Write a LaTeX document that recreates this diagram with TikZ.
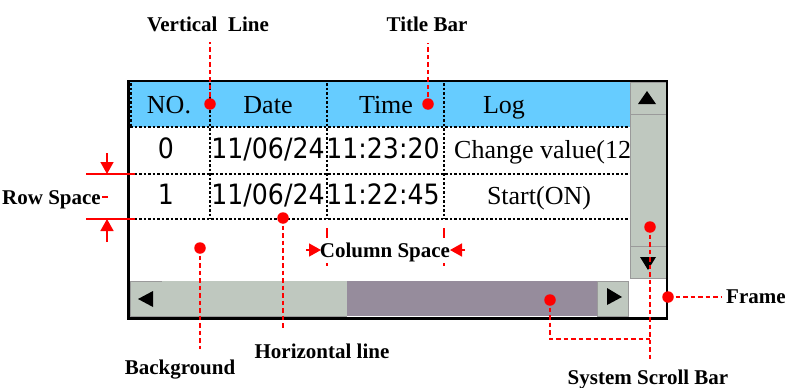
\documentclass[tikz,border=0pt]{standalone}
\usepackage{fontspec}
\setmainfont{Liberation Serif}
\newfontfamily\numfont[FakeStretch=0.9]{DejaVu Sans}
\usetikzlibrary{arrows.meta}
\definecolor{titleblue}{HTML}{66CCFF}
\definecolor{sbgray}{HTML}{BFC8BF}
\definecolor{sbdark}{HTML}{968C9C}
\definecolor{sbedge}{HTML}{9A9A9A}
\tikzset{
  lab/.style={font=\fontsize{21}{24}\selectfont\bfseries, inner sep=0pt, anchor=base},
  hdr/.style={font=\fontsize{26}{30}\selectfont, inner sep=0pt, anchor=base},
  num/.style={font=\numfont\fontsize{28}{32}\selectfont, inner sep=0pt, anchor=base},
  leader/.style={red, line width=2.6pt, dash pattern=on 4.5pt off 3pt},
  rdot/.style={circle, fill=red, inner sep=0pt, minimum size=11.5pt},
  gridline/.style={black, line width=1.2pt, dash pattern=on 2.5pt off 2pt},
  btn/.style={fill=sbgray, draw=sbedge, line width=0.8pt},
  tri/.style={fill=black},
  redline/.style={red, line width=1.5pt},
  redarrow/.style={red, line width=1.6pt, -{Triangle[length=12pt,width=13pt]}},
}
\begin{document}
\begin{tikzpicture}[x=1pt,y=-1pt]
\clip (0,0) rectangle (787,388);
\fill[white] (0,0) rectangle (787,388);
% title bar
\fill[titleblue] (130,82) rectangle (630,127);
% header texts
\node[hdr] (hno) at (169,113) {NO.};
\node[hdr] (hdate) at (268,113) {Date};
\node[hdr] (htime) at (386,113) {Time};
\node[hdr] (hlog) at (504,113) {Log};
% row 0
\node[num] (r0a) at (166,158) {0};
\node[num] (r0b) at (268,158) {11/06/24};
\node[num] (r0c) at (383,158) {11:23:20};
\node[hdr, anchor=base west] (r0d) at (454,158) {Change value(12};
% row 1
\node[num] (r1a) at (166,204) {1};
\node[num] (r1b) at (268,204) {11/06/24};
\node[num] (r1c) at (383,204) {11:22:45};
\node[hdr] (r1d) at (539,204) {Start(ON)};
% grid lines
\draw[gridline] (130,127) -- (630,127);
\draw[gridline] (130,174) -- (630,174);
\draw[gridline] (130,219) -- (630,219);
\draw[gridline] (131,83) -- (131,127);
\draw[gridline] (210,83) -- (210,219);
\draw[gridline] (327,83) -- (327,219);
\draw[gridline] (444,83) -- (444,219);
% vertical scroll bar
\fill[white] (630,82) rectangle (667,317);
\draw[btn] (630,82) rectangle (666,114);
\draw[btn] (630,114) rectangle (666,246);
\draw[btn] (630,246) rectangle (666,278);
\fill[tri] (638,104) -- (656,104) -- (647,91) -- cycle;
\fill[tri] (640,257) -- (656,257) -- (648,270) -- cycle;
% horizontal scroll bar
\draw[btn] (130,281) rectangle (162,316);
\fill[sbgray] (162,281) rectangle (347,316);
\draw[sbedge, line width=0.8pt] (162,316) -- (347,316);
\fill[sbdark] (347,281) rectangle (597,316);
\draw[btn] (597,281) rectangle (628,316);
\fill[tri] (138,299) -- (153,291) -- (153,307) -- cycle;
\fill[tri] (622,297) -- (607,288) -- (607,305) -- cycle;
% frame
\draw[black, line width=2.5pt] (128.5,81) rectangle (667,318.5);
% ---------- annotations ----------
\node[lab] (lvert) at (208,31) {Vertical~ Line};
\node[lab] (ltitle) at (427,31) {Title Bar};
\node[lab, anchor=base east] (lrow) at (101,204) {Row Space};
\node[lab] (lcol) at (385,257) {Column Space};
\node[lab] (lhor) at (322,358) {Horizontal line};
\node[lab] (lback) at (180,374) {Background};
\node[lab, anchor=base west] (lframe) at (726,303) {Frame};
\node[lab] (lsys) at (648,384) {System Scroll Bar};
% leader end points
\coordinate (vtop) at (210,42);
\coordinate (ttop) at (428,43);
\coordinate (hbot) at (283,330);
\coordinate (bbot) at (200,349);
\coordinate (fend) at (722,297);
\coordinate (sbot) at (650,360);
\coordinate (scorner1) at (550,339);
\coordinate (scorner2) at (650,339);
% leaders
\draw[leader] (210,104) -- (vtop);
\draw[leader] (428,104) -- (ttop);
\draw[leader] (283,218) -- (hbot);
\draw[leader] (200,248) -- (bbot);
\draw[leader] (668,297) -- (fend);
\draw[leader] (650,227) -- (sbot);
\draw[leader] (550,300) -- (scorner1) -- (scorner2);
% dots
\node[rdot] (dvert) at (210,104) {};
\node[rdot] (dtitle) at (428,104) {};
\node[rdot] (dhor) at (283,218) {};
\node[rdot] (dback) at (200,248) {};
\node[rdot] (dframe) at (668,297) {};
\node[rdot] (dsys1) at (650,227) {};
\node[rdot] (dsys2) at (550,300) {};
% row space marks
\draw[redline] (86,174) -- (135,174);
\draw[redline] (86,219) -- (135,219);
\coordinate (rtop) at (107,153);
\coordinate (rtopend) at (107,174);
\coordinate (rbot) at (107,242);
\coordinate (rbotend) at (107,219);
\draw[redarrow] (rtop) -- (rtopend);
\draw[redarrow] (rbot) -- (rbotend);
\draw[red, line width=2pt] (102,197) -- (108,197);
% column space marks
\draw[redline] (327,228) -- (327,238);
\draw[redline] (327,263) -- (327,266);
\draw[redline] (444,228) -- (444,238);
\draw[redline] (444,263) -- (444,266);
\coordinate (cl) at (306,250);
\coordinate (clend) at (321,250);
\coordinate (cr) at (465,250);
\coordinate (crend) at (450,250);
\draw[redarrow] (cl) -- (clend);
\draw[redarrow] (cr) -- (crend);
\end{tikzpicture}
\end{document}
